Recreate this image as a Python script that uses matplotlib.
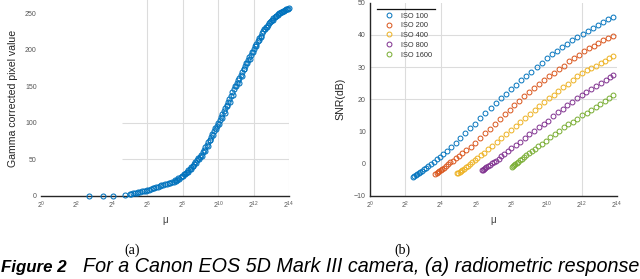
import numpy as np
import matplotlib
matplotlib.use('Agg')
import matplotlib.pyplot as plt
from matplotlib.lines import Line2D

plt.rcParams['font.family'] = ['Liberation Sans', 'DejaVu Sans']
plt.rcParams['mathtext.fontset'] = 'custom'
plt.rcParams['mathtext.rm'] = 'Liberation Sans'
plt.rcParams['mathtext.it'] = 'Liberation Sans:italic'

# ---------------- data: (a) radiometric response ----------------
a_log2_mu = [2.72, 3.48, 4.04, 4.74,
             5.0, 5.1, 5.2, 5.3, 5.4, 5.5, 5.6, 5.7, 5.8, 5.9,
             6.0, 6.1, 6.2, 6.3, 6.4, 6.5, 6.6, 6.7, 6.8, 6.9,
             7.0, 7.1, 7.2, 7.3, 7.4, 7.5, 7.6, 7.7, 7.8, 7.9,
             8.00, 8.08, 8.16, 8.24, 8.32, 8.40, 8.48, 8.56, 8.64, 8.72,
             8.80, 8.88, 8.96, 9.04, 9.12, 9.20, 9.28, 9.36, 9.44, 9.52,
             9.60, 9.68, 9.76, 9.84, 9.92, 10.00, 10.08, 10.16, 10.24, 10.32,
             10.40, 10.48, 10.56, 10.64, 10.72, 10.80, 10.88, 10.96, 11.04, 11.12,
             11.20, 11.28, 11.36, 11.44, 11.52, 11.60, 11.68, 11.76, 11.84, 11.92,
             12.00, 12.08, 12.16, 12.24, 12.32, 12.40, 12.48, 12.56, 12.64, 12.72,
             12.80, 12.88, 12.96, 13.04, 13.12, 13.20, 13.28, 13.36, 13.44, 13.52,
             13.60, 13.68, 13.76, 13.84, 13.92, 14.00,
             # second pass of patches (slightly scattered band)
             7.55, 7.75, 7.95, 8.12, 8.28, 8.44, 8.60, 8.76, 8.92, 9.08,
             9.24, 9.40, 9.56, 9.72, 9.88, 10.04, 10.20, 10.36, 10.52, 10.68,
             10.84, 11.00, 11.16, 11.32, 11.48, 11.64, 11.80, 11.96, 12.12, 12.28,
             12.44, 12.60, 12.76, 12.92, 13.08, 13.24, 13.40, 13.56, 13.72, 13.88]
a_value = [0.0, 0.0, 0.5, 2.0,
           3.0, 3.4, 3.8, 4.2, 4.6, 5.0, 5.6, 6.2, 6.8, 7.4,
           8.0, 8.8, 9.6, 10.4, 11.2, 12.0, 12.8, 13.6, 14.5, 15.3,
           16.2, 16.9, 17.5, 18.2, 18.9, 19.6, 20.9, 22.3, 23.8, 25.6,
           27.5, 29.4, 31.3, 33.2, 35.1, 37.0, 39.1, 41.6, 44.2, 46.6,
           49.0, 51.4, 53.8, 56.7, 60.0, 63.4, 66.8, 70.1, 73.5, 77.0,
           80.8, 84.6, 88.5, 92.3, 96.2, 100.0, 104.2, 108.3, 112.5, 116.6,
           120.8, 125.0, 129.1, 133.3, 137.4, 141.6, 145.8, 149.9, 154.0, 158.0,
           162.0, 166.0, 170.0, 174.0, 178.0, 181.8, 185.6, 189.5, 193.3, 197.2,
           201.0, 204.8, 208.5, 212.2, 215.8, 219.3, 222.6, 225.8, 228.7, 231.5,
           234.1, 236.6, 238.9, 241.0, 243.0, 244.9, 246.6, 248.2, 249.6, 250.9,
           252.1, 253.2, 254.2, 255.1, 255.9, 256.6,
           21.5, 24.0, 27.8, 29.5, 33.2, 37.0, 41.5, 45.0, 50.5, 55.0,
           62.0, 68.5, 76.5, 84.0, 91.5, 98.0, 107.0, 113.5, 122.5, 129.0,
           138.5, 150.0, 155.0, 164.0, 174.0, 182.0, 187.0, 197.0, 205.0, 213.5,
           218.0, 228.0, 230.5, 238.0, 240.0, 246.5, 247.5, 251.5, 253.0, 256.0]

# ---------------- data: (b) SNR per ISO ----------------
iso_labels = ['ISO 100', 'ISO 200', 'ISO 400', 'ISO 800', 'ISO 1600']

iso100_log2_mu = [2.45, 2.52, 2.60, 2.68, 2.76, 2.85, 2.95, 3.05, 3.17, 3.30,
                  3.44, 3.60, 3.77, 3.95, 4.15, 4.37, 4.60, 4.85, 5.12, 5.40,
                  5.68, 5.96, 6.25, 6.54, 6.83, 7.12, 7.41, 7.70, 7.99, 8.28,
                  8.57, 8.86, 9.15, 9.44, 9.73, 10.02, 10.31, 10.60, 10.89, 11.18,
                  11.47, 11.76, 12.05, 12.34, 12.63, 12.92, 13.21, 13.50, 13.79]
iso100_snr = [-4.2, -3.9, -3.6, -3.2, -2.9, -2.5, -2.1, -1.7, -1.2, -0.6,
              0.0, 0.6, 1.4, 2.1, 3.0, 3.9, 5.1, 6.5, 7.9, 9.5,
              11.0, 12.5, 14.1, 15.7, 17.2, 18.8, 20.3, 21.7, 23.1, 24.5,
              25.9, 27.3, 28.6, 30.0, 31.4, 32.8, 34.0, 35.1, 36.2, 37.2,
              38.3, 39.4, 40.4, 41.3, 42.2, 43.1, 44.0, 44.8, 45.7]

iso200_log2_mu = [3.70, 3.77, 3.84, 3.92, 4.00, 4.09, 4.19, 4.30, 4.42, 4.55,
                  4.70, 4.86, 5.04, 5.24, 5.46, 5.70, 5.96, 6.23, 6.51, 6.79,
                  7.07, 7.35, 7.63, 7.91, 8.19, 8.47, 8.75, 9.03, 9.31, 9.59,
                  9.87, 10.15, 10.43, 10.71, 10.99, 11.27, 11.55, 11.83, 12.11, 12.39,
                  12.67, 12.95, 13.23, 13.51, 13.79]
iso200_snr = [-3.3, -3.0, -2.7, -2.3, -2.0, -1.6, -1.2, -0.7, -0.2, 0.4,
              1.0, 1.7, 2.5, 3.3, 4.3, 5.3, 6.4, 7.9, 9.4, 10.9,
              12.5, 14.0, 15.4, 16.8, 18.2, 19.6, 21.0, 22.3, 23.6, 24.8,
              26.0, 27.1, 28.2, 29.3, 30.5, 31.8, 32.9, 33.9, 34.9, 35.9,
              36.7, 37.5, 38.3, 39.0, 39.8]

iso400_log2_mu = [4.95, 5.01, 5.08, 5.15, 5.23, 5.32, 5.42, 5.53, 5.65, 5.78,
                  5.93, 6.09, 6.27, 6.47, 6.69, 6.93, 7.18, 7.44, 7.71, 7.98,
                  8.25, 8.52, 8.79, 9.06, 9.33, 9.60, 9.87, 10.14, 10.41, 10.68,
                  10.95, 11.22, 11.49, 11.76, 12.03, 12.29, 12.55, 12.81, 13.07, 13.33,
                  13.57, 13.80]
iso400_snr = [-3.0, -2.8, -2.5, -2.2, -1.8, -1.5, -1.0, -0.6, -0.1, 0.5,
              1.1, 1.8, 2.6, 3.5, 4.5, 5.6, 6.8, 8.0, 9.2, 10.4,
              11.7, 12.9, 14.2, 15.4, 16.6, 17.9, 19.1, 20.3, 21.5, 22.6,
              23.8, 24.9, 26.0, 27.2, 28.3, 29.1, 29.8, 30.5, 31.3, 32.0,
              32.7, 33.4]

iso800_log2_mu = [6.32, 6.38, 6.45, 6.52, 6.60, 6.69, 6.79, 6.90, 7.02, 7.15,
                  7.29, 7.45, 7.62, 7.81, 8.02, 8.25, 8.50, 8.76, 9.03, 9.30,
                  9.57, 9.84, 10.11, 10.38, 10.65, 10.92, 11.19, 11.46, 11.73, 12.00,
                  12.27, 12.54, 12.81, 13.08, 13.35, 13.58, 13.80]
iso800_snr = [-2.0, -1.8, -1.5, -1.3, -1.0, -0.6, -0.3, 0.1, 0.6, 1.0,
              1.6, 2.3, 3.0, 3.9, 4.8, 5.8, 6.9, 8.0, 9.2, 10.3,
              11.3, 12.3, 13.4, 14.7, 16.0, 17.1, 18.2, 19.2, 20.3, 21.2,
              22.2, 23.1, 24.1, 25.1, 26.0, 26.8, 27.6]

iso1600_log2_mu = [8.04, 8.10, 8.17, 8.24, 8.32, 8.41, 8.51, 8.62, 8.74, 8.87,
                   9.01, 9.17, 9.34, 9.53, 9.74, 9.97, 10.21, 10.46, 10.72, 10.98,
                   11.24, 11.50, 11.76, 12.02, 12.28, 12.54, 12.80, 13.06, 13.32, 13.56,
                   13.80]
iso1600_snr = [-0.9, -0.6, -0.4, -0.1, 0.3, 0.7, 1.1, 1.5, 2.0, 2.6,
               3.2, 3.9, 4.6, 5.4, 6.2, 7.2, 8.2, 9.2, 10.3, 11.3,
               12.2, 13.1, 14.0, 15.0, 15.9, 16.8, 17.7, 18.6, 19.5, 20.4,
               21.2]

x_tick_exponents = [0, 2, 4, 6, 8, 10, 12, 14]
a_yticks = [0, 50, 100, 150, 200, 250]
b_yticks = [-10, 0, 10, 20, 30, 40, 50]

colors = ['#0072BD', '#D95319', '#EDB120', '#7E2F8E', '#77AC30']

# ---------------- figure ----------------
W, H = 640, 279
fig = plt.figure(figsize=(W / 100, H / 100), dpi=100)


def rect(x0, x1, ytop, ybot):
    return [x0 / W, 1 - ybot / H, (x1 - x0) / W, (ybot - ytop) / H]


tick_color = '#555555'
grid_color = '#dcdcdc'
xticks = [2.0 ** e for e in x_tick_exponents]
xticklabels = [r'$2^{%d}$' % e for e in x_tick_exponents]

# ---- (a)
axA = fig.add_axes(rect(41, 289, 0, 196))
axA.set_xscale('log', base=2)
axA.set_xlim(2 ** 0, 2 ** 14)
axA.set_ylim(0, 268)
for e in [6, 8, 10, 12, 14]:
    axA.axvline(2.0 ** e, color=grid_color, lw=0.8, zorder=0)
axA.hlines([50, 100], 2 ** 4.6, 2 ** 14, color=grid_color, lw=0.8, zorder=0)
axA.plot(2.0 ** np.array(a_log2_mu), a_value, 'o', mfc='none', mec=colors[0],
         ms=3.6, mew=0.75, clip_on=False, zorder=3)
axA.set_xticks(xticks)
axA.set_xticklabels(xticklabels)
axA.minorticks_off()
axA.set_yticks(a_yticks)
for s in ['top', 'right', 'left']:
    axA.spines[s].set_visible(False)
axA.spines['bottom'].set_color('#262626')
axA.spines['bottom'].set_linewidth(1.0)
axA.tick_params(axis='both', labelsize=5, colors=tick_color, length=0, pad=3)
axA.tick_params(axis='x', pad=2.5)
axA.set_ylabel('Gamma corrected pixel value', fontsize=7.6, color='#262626', labelpad=5)
axA.set_xlabel('μ', fontsize=7, color='#404040', labelpad=3)

# ---- (b)
axB = fig.add_axes(rect(370, 617, 2.67, 196))
axB.set_xscale('log', base=2)
axB.set_xlim(2 ** 0, 2 ** 14)
axB.set_ylim(-10, 50)
for e in [2, 4, 12]:
    axB.axvline(2.0 ** e, color=grid_color, lw=0.8, zorder=0)
for v in [20, 30, 40]:
    axB.axhline(v, color=grid_color, lw=0.8, zorder=0)
series = [(iso100_log2_mu, iso100_snr), (iso200_log2_mu, iso200_snr),
          (iso400_log2_mu, iso400_snr), (iso800_log2_mu, iso800_snr),
          (iso1600_log2_mu, iso1600_snr)]
handles = []
for (lx, sy), c, lab in zip(series, colors, iso_labels):
    h, = axB.plot(2.0 ** np.array(lx), sy, 'o', mfc='none', mec=c, ms=3.5,
                  mew=0.7, label=lab, zorder=3)
    handles.append(h)
axB.set_xticks(xticks)
axB.set_xticklabels(xticklabels)
axB.minorticks_off()
axB.set_yticks(b_yticks)
for s in ['top', 'right']:
    axB.spines[s].set_visible(False)
for s in ['left', 'bottom']:
    axB.spines[s].set_color('#262626')
    axB.spines[s].set_linewidth(1.0)
axB.tick_params(axis='both', labelsize=5, colors=tick_color, length=0, pad=3)
axB.tick_params(axis='x', pad=2.5)
axB.set_ylabel('SNR(dB)', fontsize=7.6, color='#262626', labelpad=6)
axB.set_xlabel('μ', fontsize=7, color='#404040', labelpad=3)

leg = axB.legend(handles=handles, loc='upper left',
                 bbox_to_anchor=(377 / W, 1 - 9.5 / H), bbox_transform=fig.transFigure,
                 borderaxespad=0, frameon=False, fontsize=5.3, handlelength=2.4,
                 handletextpad=0.5, labelspacing=0.35, borderpad=0.4)
for t in leg.get_texts():
    t.set_color('#333333')
fig.add_artist(Line2D([377 / W, 435 / W], [1 - 9.3 / H, 1 - 9.3 / H],
                      transform=fig.transFigure, color='#111111', lw=0.9))

# ---- sub-captions and figure caption
fig.text(132 / W, 1 - 250 / H, '(a)', family='Liberation Serif', fontsize=10,
         ha='center', va='center', color='black')
fig.text(402 / W, 1 - 250 / H, '(b)', family='Liberation Serif', fontsize=10,
         ha='center', va='center', color='black')
fig.text(1 / W, 1 - 272 / H, 'Figure 2', fontsize=12.2, fontstyle='italic',
         fontweight='bold', ha='left', va='baseline', color='black')
fig.text(83 / W, 1 - 272 / H, 'For a Canon EOS 5D Mark III camera, (a) radiometric response',
         fontsize=14.2, fontstyle='italic', ha='left', va='baseline', color='black')

fig.savefig('out.png', dpi=100)
